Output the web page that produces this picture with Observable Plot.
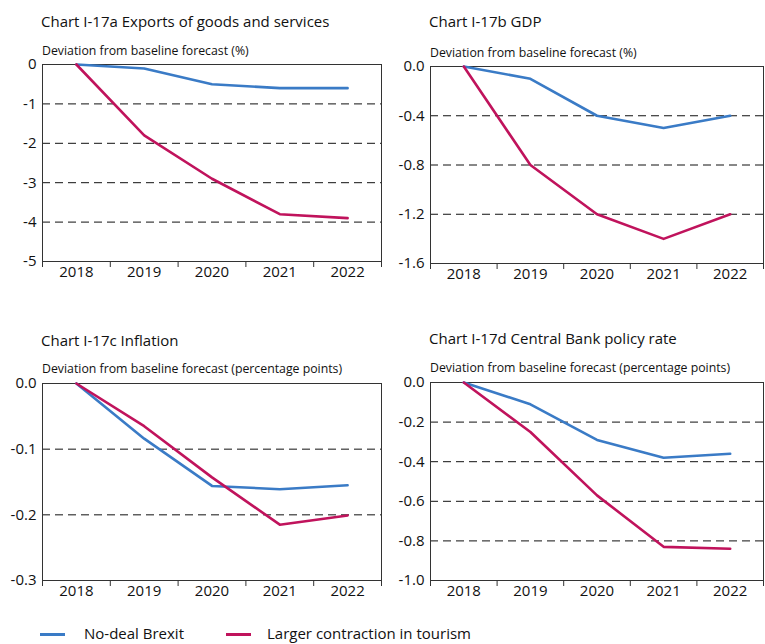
<!DOCTYPE html>
<html><head><meta charset="utf-8">
<script src="https://cdn.jsdelivr.net/npm/d3@7"></script>
<script src="https://cdn.jsdelivr.net/npm/@observablehq/plot@0.6"></script>
<style>
body{margin:0;background:#fff;font-family:"Open Sans",sans-serif;color:#111}
#root{position:relative;width:765px;height:644px;overflow:hidden}
.title{position:absolute;font-size:15px;line-height:15px;white-space:nowrap}
.sub{position:absolute;font-size:12.3px;line-height:12px;white-space:nowrap}
.plot{position:absolute}
.legend{position:absolute;top:624px;font-size:15px;line-height:18px;white-space:nowrap}
.sw{position:absolute;width:25px;height:3px;top:9px}
</style></head>
<body><div id="root"></div>
<script>
const years = [2018, 2019, 2020, 2021, 2022];
const bandEdges = [2017.5, 2018.5, 2019.5, 2020.5, 2021.5, 2022.5];
const seriesNames = ["No-deal Brexit", "Larger contraction in tourism"];
const seriesColors = ["#3a7bc6", "#c0135c"];

const exportsNoDeal = [0, -0.1, -0.5, -0.6, -0.6];
const exportsTourism = [0, -1.8, -2.9, -3.8, -3.9];
const exportsTicks = [0, -1, -2, -3, -4, -5];

const gdpNoDeal = [0, -0.1, -0.4, -0.5, -0.4];
const gdpTourism = [0, -0.8, -1.2, -1.4, -1.2];
const gdpTicks = [0, -0.4, -0.8, -1.2, -1.6];

const inflationNoDeal = [0, -0.084, -0.156, -0.161, -0.155];
const inflationTourism = [0, -0.065, -0.143, -0.215, -0.201];
const inflationTicks = [0, -0.1, -0.2, -0.3];

const rateNoDeal = [0, -0.11, -0.29, -0.38, -0.36];
const rateTourism = [0, -0.25, -0.57, -0.83, -0.84];
const rateTicks = [0, -0.2, -0.4, -0.6, -0.8, -1.0];

const titles = ["Chart I-17a Exports of goods and services", "Chart I-17b GDP", "Chart I-17c Inflation", "Chart I-17d Central Bank policy rate"];
const subtitles = ["Deviation from baseline forecast (%)", "Deviation from baseline forecast (%)", "Deviation from baseline forecast (percentage points)", "Deviation from baseline forecast (percentage points)"];

const panels = [
  {series: [exportsNoDeal, exportsTourism], ticks: exportsTicks, dec: 0, x0: 0, left: 42, right: 381, top: 64, bottom: 261, titleTop: 14, subTop: 45},
  {series: [gdpNoDeal, gdpTourism], ticks: gdpTicks, dec: 1, x0: 390, left: 430, right: 763, top: 66, bottom: 263, titleTop: 14, subTop: 47},
  {series: [inflationNoDeal, inflationTourism], ticks: inflationTicks, dec: 1, x0: 0, left: 42, right: 381, top: 383, bottom: 580, titleTop: 333, subTop: 363},
  {series: [rateNoDeal, rateTourism], ticks: rateTicks, dec: 1, x0: 390, left: 430, right: 763, top: 382, bottom: 580, titleTop: 331, subTop: 362}
];

const root = document.getElementById("root");

panels.forEach((p, i) => {
  const t = document.createElement("div");
  t.className = "title"; t.textContent = titles[i];
  t.style.left = (p.left - 1) + "px"; t.style.top = p.titleTop + "px";
  root.appendChild(t);
  const s = document.createElement("div");
  s.className = "sub"; s.textContent = subtitles[i];
  s.style.left = p.left + "px"; s.style.top = p.subTop + "px";
  root.appendChild(s);

  const rows = [];
  p.series.forEach((vals, k) => vals.forEach((v, j) => rows.push({year: years[j], value: v, series: seriesNames[k]})));
  const yMin = d3.min(p.ticks), yMax = d3.max(p.ticks);
  const grid = p.ticks.filter(v => v !== yMin && v !== yMax);
  const padTop = 10, marginRight = 2, marginBottom = 30;
  const width = p.right - p.x0 + marginRight;
  const height = p.bottom - p.top + padTop + marginBottom;

  const chart = Plot.plot({
    width, height,
    marginLeft: p.left - p.x0, marginRight, marginTop: padTop, marginBottom,
    style: {fontFamily: "Open Sans, sans-serif", fontSize: "15px", color: "#111", background: "transparent"},
    x: {type: "linear", domain: [2017.5, 2022.5], label: null},
    y: {domain: [yMin, yMax], label: null},
    color: {domain: seriesNames, range: seriesColors},
    marks: [
      Plot.ruleY(grid, {stroke: "#111", strokeWidth: 1, strokeDasharray: "8,5"}),
      Plot.frame({stroke: "#333", strokeWidth: 1}),
      Plot.axisX(bandEdges, {tickSize: 6, tickFormat: () => "", stroke: "#333", label: null}),
      Plot.axisX(years, {tickSize: 0, tickPadding: 5, tickFormat: d => String(d), fontSize: 15, fill: "#111", label: null}),
      Plot.axisY(p.ticks, {tickSize: 0, tickPadding: 6, tickFormat: d => d.toFixed(p.dec), fontSize: 15, fill: "#111", label: null}),
      Plot.line(rows, {x: "year", y: "value", z: "series", stroke: "series", strokeWidth: 2.6})
    ]
  });
  const wrap = document.createElement("div");
  wrap.className = "plot";
  wrap.style.left = p.x0 + "px";
  wrap.style.top = (p.top - padTop) + "px";
  wrap.appendChild(chart);
  root.appendChild(wrap);
});

// legend
const legendPos = [{sw: 40, text: 84}, {sw: 226, text: 267}];
seriesNames.forEach((name, k) => {
  const sw = document.createElement("div");
  sw.className = "legend";
  sw.style.left = legendPos[k].sw + "px";
  sw.innerHTML = `<span class="sw" style="left:0;background:${seriesColors[k]}"></span>`;
  root.appendChild(sw);
  const tx = document.createElement("div");
  tx.className = "legend";
  tx.style.left = legendPos[k].text + "px";
  tx.textContent = name;
  root.appendChild(tx);
});
</script>
</body></html>
